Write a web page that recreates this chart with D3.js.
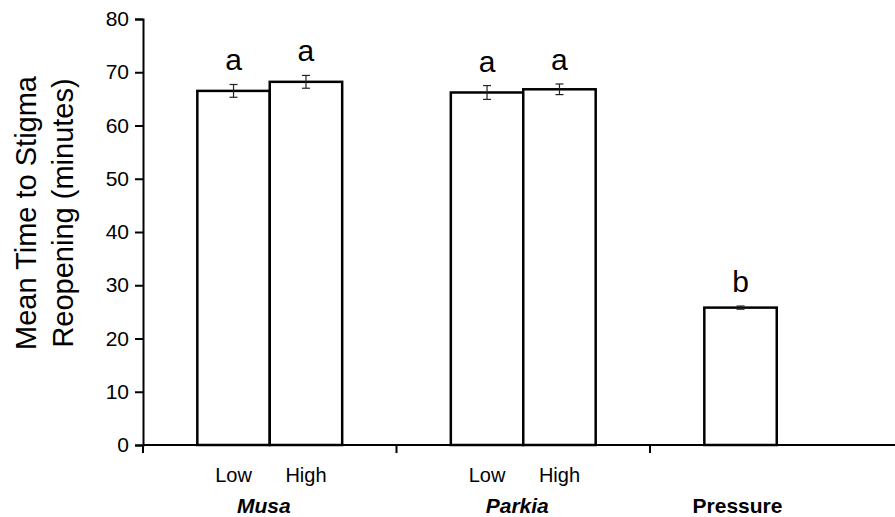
<!DOCTYPE html>
<html>
<head>
<meta charset="utf-8">
<script src="https://cdn.jsdelivr.net/npm/d3@7"></script>
<style>
  body { margin: 0; background: #fff; }
  svg { display: block; font-family: "Liberation Sans", Arial, sans-serif; }
</style>
</head>
<body>
<div id="chart"></div>
<script>
const width = 895;
const height = 517;

// data
const groups = ["Musa", "Parkia", "Pressure"];
const levels = ["Low", "High"];
const lowMeans = [66.5, 66.2, 25.8];
const highMeans = [68.2, 66.8, null];
const lowErr = [1.2, 1.3, 0.3];
const highErr = [1.2, 1.0, null];
const lowLetters = ["a", "a", "b"];
const highLetters = ["a", "a", null];
const yTicks = [0, 10, 20, 30, 40, 50, 60, 70, 80];

// flatten into bars
const bars = [];
groups.forEach((g, i) => {
  if (lowMeans[i] != null) bars.push({ group: g, level: "Low", mean: lowMeans[i], err: lowErr[i], letter: lowLetters[i] });
  if (highMeans[i] != null) bars.push({ group: g, level: "High", mean: highMeans[i], err: highErr[i], letter: highLetters[i] });
});
const twoLevel = groups.filter((g, i) => highMeans[i] != null);

const svg = d3.select("#chart")
  .append("svg")
  .attr("width", width)
  .attr("height", height);

const x0 = d3.scaleBand()
  .domain(groups)
  .range([143, 903.5])
  .paddingInner(0)
  .paddingOuter(0);

const x1 = d3.scaleBand()
  .domain(levels)
  .range([0, x0.bandwidth()])
  .paddingInner(0)
  .paddingOuter(0.75);

const y = d3.scaleLinear()
  .domain([0, 80])
  .range([445, 19]);

// bars
svg.selectAll(".bar")
  .data(bars)
  .enter()
  .append("rect")
  .attr("class", "bar")
  .attr("x", d => x0(d.group) + x1(d.level))
  .attr("y", d => y(d.mean))
  .attr("width", x1.bandwidth())
  .attr("height", d => y(0) - y(d.mean))
  .attr("fill", "#fff")
  .attr("stroke", "#000")
  .attr("stroke-width", 2.5);

// error bars
const eb = svg.selectAll(".err")
  .data(bars)
  .enter()
  .append("g")
  .attr("class", "err")
  .attr("stroke", "#222")
  .attr("stroke-width", 1.2);

const cx = d => x0(d.group) + x1(d.level) + x1.bandwidth() / 2;

eb.append("line")
  .attr("x1", cx).attr("x2", cx)
  .attr("y1", d => y(d.mean + d.err))
  .attr("y2", d => y(d.mean - d.err));
eb.append("line")
  .attr("x1", d => cx(d) - 4).attr("x2", d => cx(d) + 4)
  .attr("y1", d => y(d.mean + d.err))
  .attr("y2", d => y(d.mean + d.err));
eb.append("line")
  .attr("x1", d => cx(d) - 4).attr("x2", d => cx(d) + 4)
  .attr("y1", d => y(d.mean - d.err))
  .attr("y2", d => y(d.mean - d.err));

// significance letters
svg.selectAll(".letter")
  .data(bars.filter(d => d.letter))
  .enter()
  .append("text")
  .attr("class", "letter")
  .attr("x", cx)
  .attr("y", d => y(d.mean + d.err) - 14)
  .attr("text-anchor", "middle")
  .style("font-size", "30px")
  .text(d => d.letter);

// y axis
const yAxis = svg.append("g")
  .attr("transform", "translate(143,0)")
  .call(d3.axisLeft(y).tickValues(yTicks).tickSize(8).tickPadding(6));
yAxis.select(".domain").attr("stroke-width", 2);
yAxis.selectAll(".tick line").attr("stroke-width", 2);
yAxis.selectAll("text")
  .style("font-size", "21px")
  .attr("fill", "#000");

// x axis: group dividers below
const xAxis = svg.append("g")
  .attr("transform", `translate(0,${y(0)})`);
xAxis.append("line")
  .attr("x1", 143).attr("x2", x0.range()[1])
  .attr("stroke", "#000")
  .attr("stroke-width", 2);
xAxis.selectAll(".gtick")
  .data(groups)
  .enter()
  .append("line")
  .attr("class", "gtick")
  .attr("x1", d => x0(d)).attr("x2", d => x0(d))
  .attr("y1", 0).attr("y2", 8)
  .attr("stroke", "#000")
  .attr("stroke-width", 2);

// level labels
svg.selectAll(".lvl")
  .data(bars.filter(d => twoLevel.includes(d.group)))
  .enter()
  .append("text")
  .attr("class", "lvl")
  .attr("x", cx)
  .attr("y", 482)
  .attr("text-anchor", "middle")
  .style("font-size", "20px")
  .text(d => d.level);

// group labels
svg.selectAll(".grp")
  .data(groups)
  .enter()
  .append("text")
  .attr("class", "grp")
  .attr("x", (d, i) => {
    const b = bars.filter(e => e.group === d);
    const mid = d3.mean(b, cx);
    return highMeans[i] != null ? mid - 6 : mid - 3;
  })
  .attr("y", 513)
  .attr("text-anchor", "middle")
  .style("font-size", "21px")
  .style("font-weight", "bold")
  .style("font-style", (d, i) => highMeans[i] != null ? "italic" : "normal")
  .text(d => d);

// y axis title
const title = svg.append("text")
  .attr("transform", "translate(36,213) rotate(-90)")
  .attr("text-anchor", "middle")
  .style("font-size", "29px");
title.append("tspan").attr("x", 0).attr("y", 0).text("Mean Time to Stigma");
title.append("tspan").attr("x", 0).attr("y", 36.5).text("Reopening (minutes)");
</script>
</body>
</html>
